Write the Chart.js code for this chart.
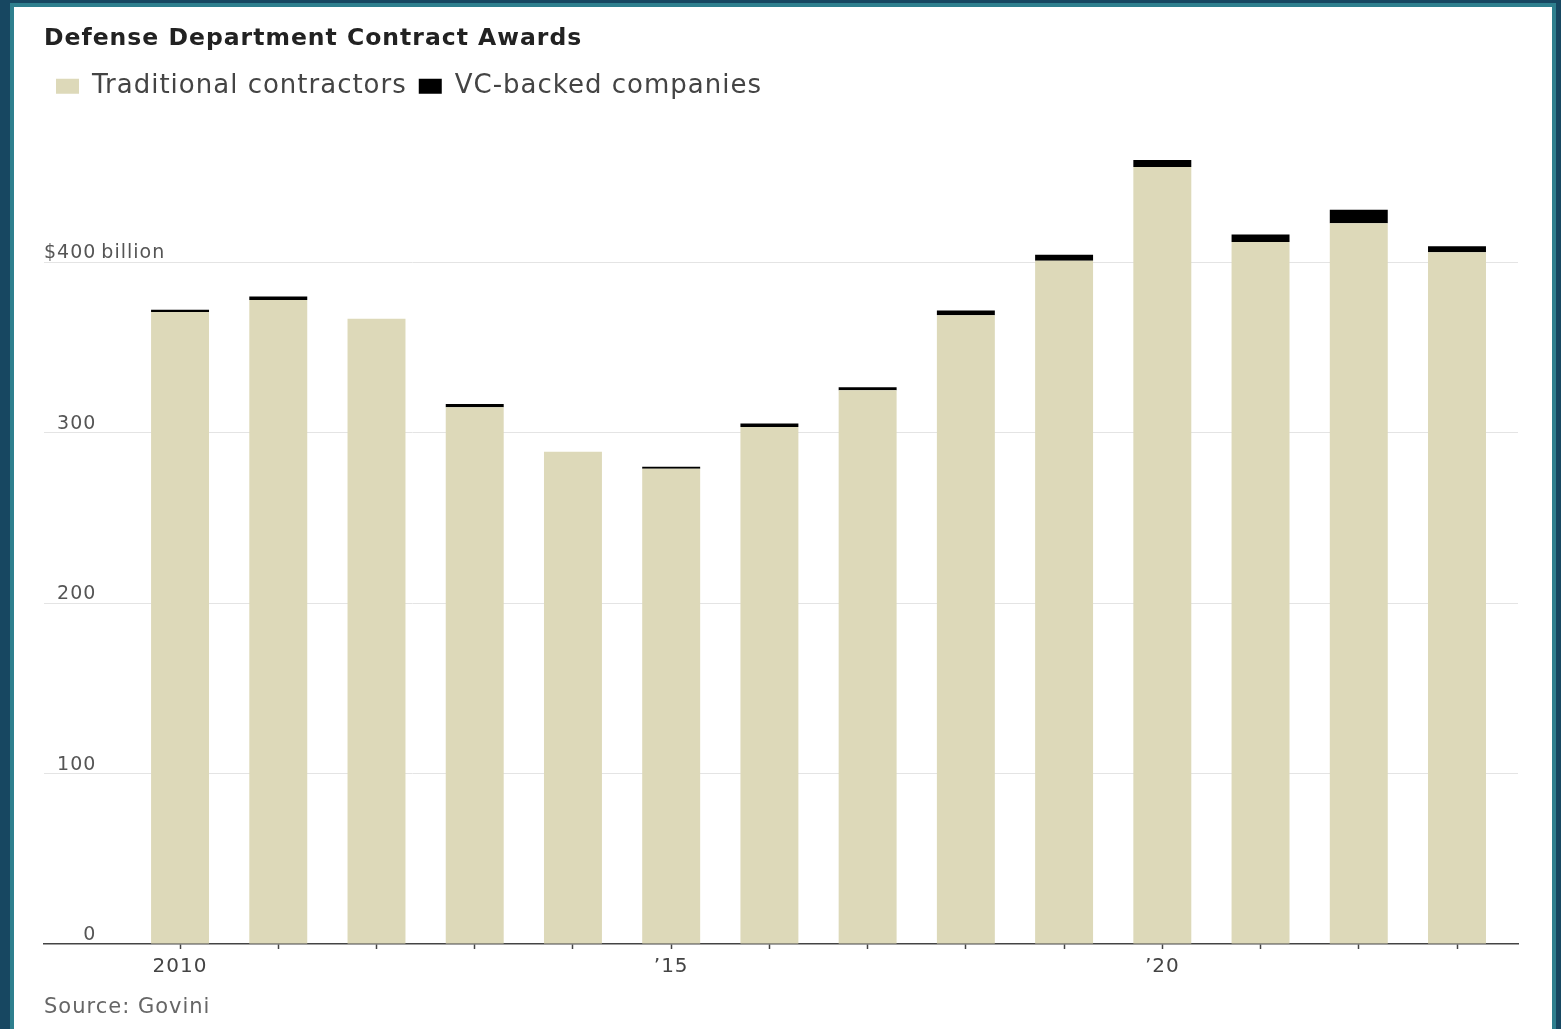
<!DOCTYPE html>
<html>
<head>
<meta charset="utf-8">
<title>Defense Department Contract Awards</title>
<script src="https://cdn.jsdelivr.net/npm/chart.js@4/dist/chart.umd.min.js"></script>
<style>
  html, body {
    margin: 0;
    padding: 0;
    width: 1561px;
    height: 1029px;
    overflow: hidden;
    background: #174761;
  }
  #panel {
    position: absolute;
    left: 10px;
    top: 3px;
    width: 1538px;
    height: 1100px;
    background: #ffffff;
    border: 4px solid #2e7f8e;
  }
  #wrap {
    position: absolute;
    left: 0;
    top: 0;
    width: 1561px;
    height: 1029px;
  }
</style>
</head>
<body>
<div id="panel"></div>
<div id="wrap"><canvas id="myChart"></canvas></div>

<script>
var years = [2010, 2011, 2012, 2013, 2014, 2015, 2016, 2017, 2018, 2019, 2020, 2021, 2022, 2023];
var traditional = [371, 378, 367, 315, 289, 279, 303.5, 325, 369, 401, 456, 412, 423, 406];
var vcBacked = [1.3, 2, 0, 2, 0, 1.1, 2, 1.8, 2.8, 3.5, 4.2, 4.5, 8, 3.5];

var yTicks = [0, 100, 200, 300, 400];
var xLabels = {2010: "2010", 2015: "\u201915", 2020: "\u201920"};

var FONT = '"DejaVu Sans", sans-serif';

function toPoints(values) {

  var points = [];

  for (var i = 0; i < years.length; i++) {

    points.push({x: years[i], y: values[i]});
  }

  return points;
}

// canvas text in the original is set quite wide
var spacingPlugin = {
  id: "spacing",
  beforeUpdate: function(chart) {
    chart.ctx.letterSpacing = "1px";
  },
  beforeDraw: function(chart) {
    chart.ctx.letterSpacing = "1px";
  }
};

// writes "billion" after the $400 tick
var unitPlugin = {
  id: "unit",
  afterDraw: function(chart) {

    var scale = chart.scales.y;
    var ctx = chart.ctx;

    ctx.save();
    ctx.letterSpacing = "1px";
    ctx.font = "19px " + FONT;
    ctx.fillStyle = "#555555";
    ctx.textAlign = "left";
    ctx.textBaseline = "middle";
    var x = scale.right + ctx.measureText("$400").width + 5;
    ctx.fillText("billion", x, scale.getPixelForValue(400) - 9);
    ctx.restore();
  }
};

function drawChart() {

  var ctx = document.getElementById("myChart");

  var myChart = new Chart(ctx, {
    type: "bar",
    data: {
      datasets: [
        {
          label: "Traditional contractors",
          data: toPoints(traditional),
          backgroundColor: "#ddd9b9",
          borderWidth: 0
        },
        {
          label: "VC-backed companies",
          data: toPoints(vcBacked),
          backgroundColor: "#000000",
          borderWidth: 0
        }
      ]
    },
    options: {
      responsive: true,
      maintainAspectRatio: false,
      animation: false,
      barPercentage: 0.59,
      categoryPercentage: 1,
      layout: {
        padding: {left: 44, right: 43, top: 0, bottom: 0}
      },
      plugins: {
        title: {
          display: true,
          text: "Defense Department Contract Awards",
          align: "start",
          color: "#222222",
          font: {family: FONT, size: 23.5, weight: "bold"},
          padding: {top: 25, bottom: 8}
        },
        subtitle: {
          display: true,
          position: "bottom",
          text: "Source: Govini",
          align: "start",
          color: "#666666",
          font: {family: FONT, size: 21},
          padding: {top: 10.4, bottom: 8.4}
        },
        legend: {
          display: true,
          position: "top",
          align: "start",
          labels: {
            boxWidth: 23,
            boxHeight: 15,
            padding: 12,
            color: "#444444",
            font: {family: FONT, size: 26}
          }
        },
        tooltip: {enabled: false}
      },
      scales: {
        x: {
          type: "linear",
          stacked: true,
          offset: false,
          min: 2008.615,
          max: 2023.621,
          afterBuildTicks: function(scale) {
            scale.ticks = years.map(function(y) { return {value: y}; });
          },
          ticks: {
            autoSkip: false,
            maxRotation: 0,
            padding: 6,
            color: "#444444",
            font: {family: FONT, size: 20},
            callback: function(value) {
              return xLabels[value] || "";
            }
          },
          grid: {
            offset: false,
            drawOnChartArea: false,
            drawTicks: true,
            tickLength: 5,
            tickColor: "#444444",
            tickWidth: 1.5
          },
          border: {display: true, color: "#444444", width: 1.5}
        },
        y: {
          stacked: true,
          min: 0,
          max: 490,
          afterBuildTicks: function(scale) {
            scale.ticks = yTicks.map(function(v) { return {value: v}; });
          },
          ticks: {
            mirror: true,
            crossAlign: "far",
            padding: 0,
            labelOffset: -9,
            color: "#555555",
            font: {family: FONT, size: 19},
            callback: function(value) {
              return value === 400 ? "$400" : String(value);
            }
          },
          grid: {
            drawTicks: false,
            lineWidth: 1,
            color: function(c) {
              return c.tick && c.tick.value === 0 ? "rgba(0,0,0,0)" : "#e4e4e4";
            }
          },
          border: {display: false}
        }
      }
    },
    plugins: [spacingPlugin, unitPlugin]
  });
}

drawChart();
</script>
</body>
</html>
